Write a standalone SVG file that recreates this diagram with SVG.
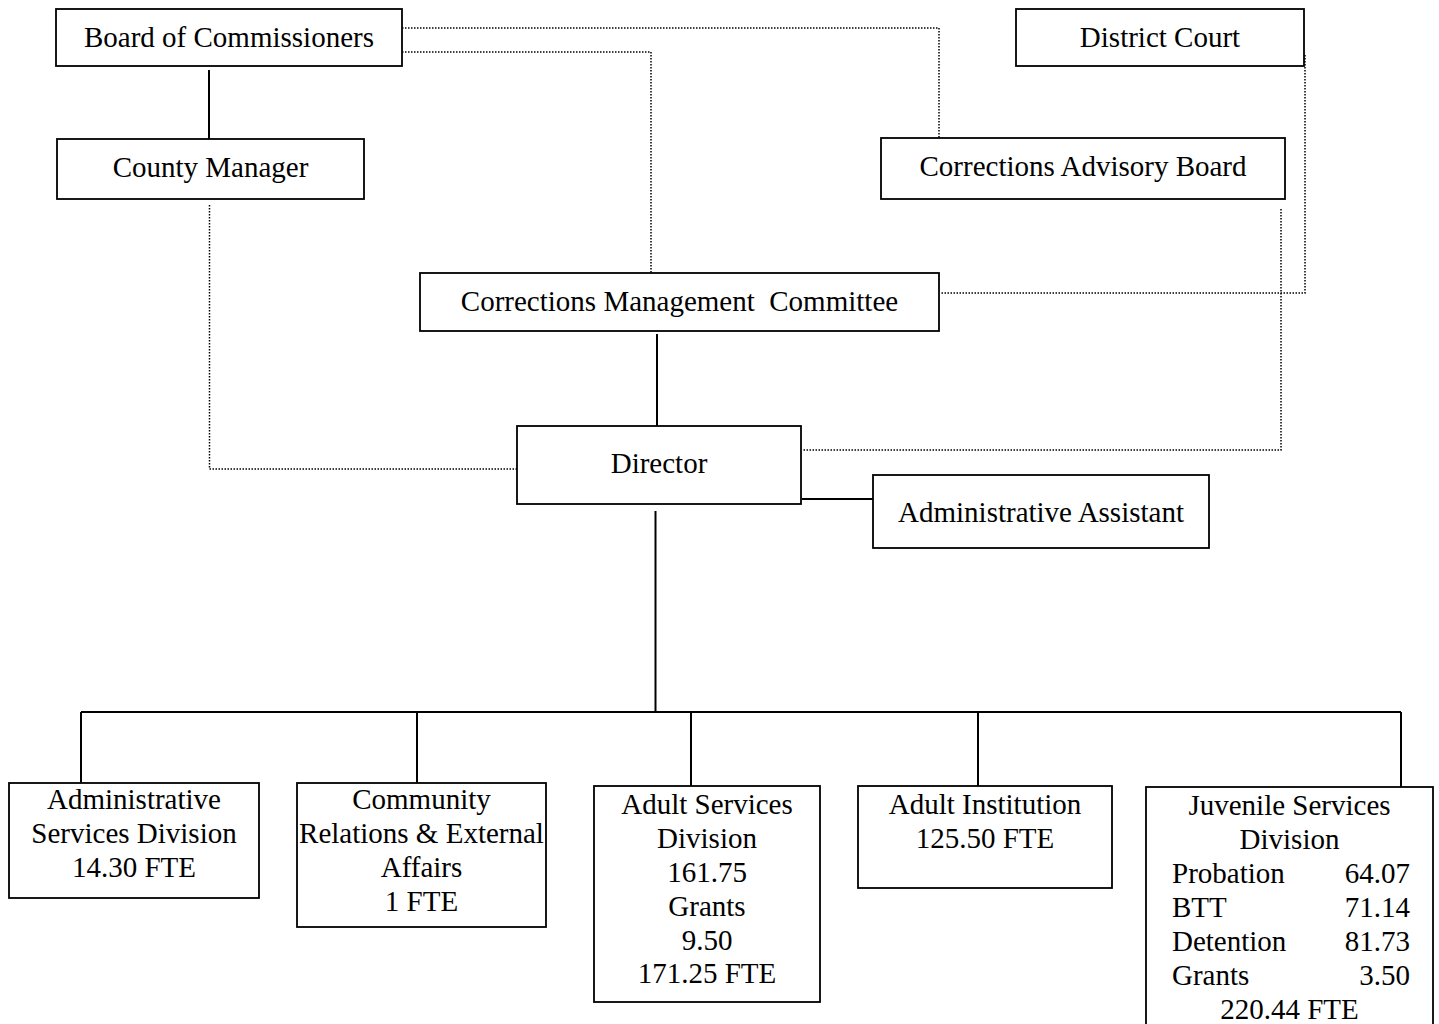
<svg xmlns="http://www.w3.org/2000/svg" width="1439" height="1024" viewBox="0 0 1439 1024">
<style>
.box{fill:#fff;stroke:#000;stroke-width:1.8}
.t{font-family:"Liberation Serif","Times New Roman",serif;font-size:29px;fill:#000;text-anchor:middle}
.l{text-anchor:start}
.r{text-anchor:end}
.solid{fill:none;stroke:#000;stroke-width:2}
.dot{fill:none;stroke:#000;stroke-width:1.5;stroke-dasharray:1.5 1.5}
</style>
<rect width="1439" height="1024" fill="#fff"/>
<g id="connectors">
<path class="dot" d="M402 28 H939 V143"/>
<path class="dot" d="M402 52 H651 V273"/>
<path class="dot" d="M1305 55 V293 H940"/>
<path class="dot" d="M1281 209 V450 H802"/>
<path class="dot" d="M209.5 205 V469 H517"/>
<path class="solid" d="M209 70 V142"/>
<path class="solid" d="M657 334 V427"/>
<path class="solid" d="M802 499 H873"/>
<path class="solid" d="M655.5 511 V712"/>
<path class="solid" d="M81 712 H1401"/>
<path class="solid" d="M81 712 V783"/>
<path class="solid" d="M417 712 V783"/>
<path class="solid" d="M691 712 V786"/>
<path class="solid" d="M978 712 V786"/>
<path class="solid" d="M1401 712 V787"/>
</g>
<g id="board">
<rect class="box" x="56" y="9" width="346" height="57"/>
<text class="t" x="229" y="47">Board of Commissioners</text>
</g>
<g id="county-manager">
<rect class="box" x="57" y="139" width="307" height="60"/>
<text class="t" x="210.5" y="177">County Manager</text>
</g>
<g id="district-court">
<rect class="box" x="1016" y="9" width="288" height="57"/>
<text class="t" x="1160" y="47">District Court</text>
</g>
<g id="advisory-board">
<rect class="box" x="881" y="138" width="404" height="61"/>
<text class="t" x="1083" y="176">Corrections Advisory Board</text>
</g>
<g id="management-committee">
<rect class="box" x="420" y="273" width="519" height="58"/>
<text class="t" x="679.5" y="311" xml:space="preserve">Corrections Management  Committee</text>
</g>
<g id="director">
<rect class="box" x="517" y="426" width="284" height="78"/>
<text class="t" x="659" y="473">Director</text>
</g>
<g id="admin-assistant">
<rect class="box" x="873" y="475" width="336" height="73"/>
<text class="t" x="1041" y="522">Administrative Assistant</text>
</g>
<g id="admin-services">
<rect class="box" x="9" y="783" width="250" height="115"/>
<text class="t" x="134" y="809">Administrative</text>
<text class="t" x="134" y="843">Services Division</text>
<text class="t" x="134" y="877">14.30 FTE</text>
</g>
<g id="community-relations">
<rect class="box" x="297" y="783" width="249" height="144"/>
<text class="t" x="421.5" y="809">Community</text>
<text class="t" x="421.5" y="843">Relations &amp; External</text>
<text class="t" x="421.5" y="877">Affairs</text>
<text class="t" x="421.5" y="911">1 FTE</text>
</g>
<g id="adult-services">
<rect class="box" x="594" y="786" width="226" height="216"/>
<text class="t" x="707" y="814">Adult Services</text>
<text class="t" x="707" y="848">Division</text>
<text class="t" x="707" y="882">161.75</text>
<text class="t" x="707" y="916">Grants</text>
<text class="t" x="707" y="950">9.50</text>
<text class="t" x="707" y="983">171.25 FTE</text>
</g>
<g id="adult-institution">
<rect class="box" x="858" y="786" width="254" height="102"/>
<text class="t" x="985" y="814">Adult Institution</text>
<text class="t" x="985" y="848">125.50 FTE</text>
</g>
<g id="juvenile-services">
<rect class="box" x="1146" y="787" width="287" height="250"/>
<text class="t" x="1289.5" y="815">Juvenile Services</text>
<text class="t" x="1289.5" y="849">Division</text>
<text class="t l" x="1172" y="883">Probation</text>
<text class="t r" x="1410" y="883">64.07</text>
<text class="t l" x="1172" y="917">BTT</text>
<text class="t r" x="1410" y="917">71.14</text>
<text class="t l" x="1172" y="951">Detention</text>
<text class="t r" x="1410" y="951">81.73</text>
<text class="t l" x="1172" y="985">Grants</text>
<text class="t r" x="1410" y="985">3.50</text>
<text class="t" x="1289.5" y="1019">220.44 FTE</text>
</g>
</svg>
